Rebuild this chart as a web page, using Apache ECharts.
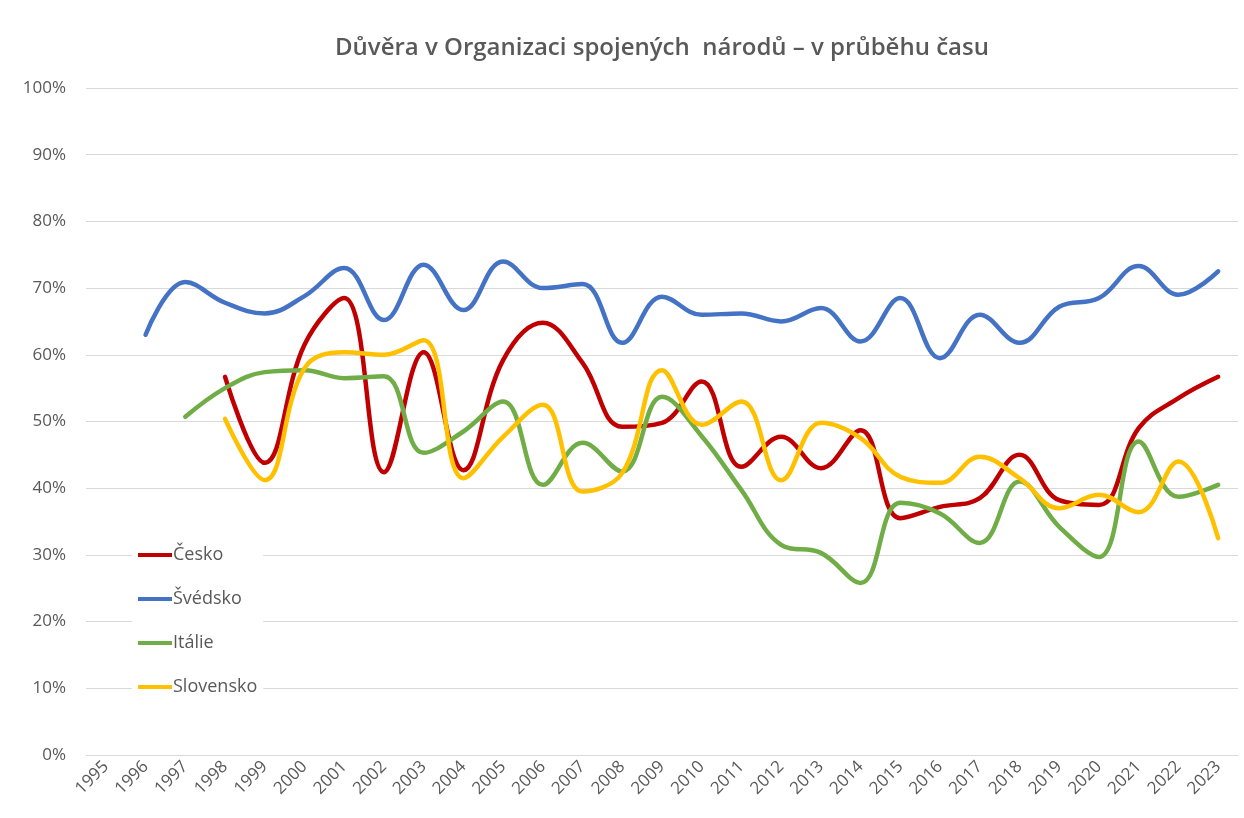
<!DOCTYPE html>
<html>
<head>
<meta charset="utf-8">
<title>Důvěra v OSN</title>
<script src="https://cdn.jsdelivr.net/npm/echarts@6/dist/echarts.min.js"></script>
<style>
html, body { margin: 0; padding: 0; background: #fff; }
#chart { width: 1244px; height: 818px; }
</style>
</head>
<body>
<div id="chart"></div>
<script>
// roky na ose x
var years = ['1995','1996','1997','1998','1999','2000','2001','2002','2003','2004',
  '2005','2006','2007','2008','2009','2010','2011','2012','2013','2014',
  '2015','2016','2017','2018','2019','2020','2021','2022','2023'];

// hodnoty v % (null = chybí)
var cesko = [null, null, null, 56.7, 43.8, 61.5, 68.5, 42.4, 60.4, 42.7,
  59.2, 64.8, 58.8, 49.2, 49.8, 56, 43.2, 47.7, 43, 48.7,
  35.5, 37.2, 38.5, 45, 38.2, 37.5, 49, 53.5, 56.7];
var svedsko = [null, 63, 70.9, 67.8, 66.2, 68.8, 73, 65.2, 73.5, 66.7,
  74, 70, 70.6, 61.8, 68.7, 66, 66.2, 65, 67, 62,
  68.5, 59.5, 66, 61.8, 67.2, 68.5, 73.3, 69, 72.5];
var italie = [null, null, 50.7, 55, 57.4, 57.7, 56.5, 56.8, 45.3, 48.5,
  53, 40.5, 46.8, 42.5, 53.7, 47.8, 39.7, 31.5, 30.3, 25.8,
  37.8, 36.2, 31.8, 41, 34.2, 29.7, 47, 38.7, 40.5];
var slovensko = [null, null, null, 50.4, 41.2, 58, 60.4, 60, 62.2, 41.5,
  47.7, 52.5, 39.5, 42.3, 57.7, 49.5, 53, 41.2, 49.8, 47.5,
  41.7, 40.8, 44.7, 41.5, 37, 39, 36.4, 44, 32.5];

var yTicks = [0, 10, 20, 30, 40, 50, 60, 70, 80, 90, 100];

var myChart = echarts.init(document.getElementById('chart'));

function line(name, data, color) {
  return {
    name: name,
    type: 'line',
    data: data,
    smooth: 0.4,
    symbol: 'none',
    connectNulls: false,
    lineStyle: { width: 4.5, color: color, cap: 'round' },
    itemStyle: { color: color }
  };
}

var option = {
  backgroundColor: '#fff',
  animation: false,
  textStyle: { fontFamily: 'Open Sans' },
  title: {
    text: 'Důvěra v Organizaci spojených  národů – v průběhu času',
    left: 330,
    top: 31,
    textStyle: { fontSize: 24, fontWeight: 600, color: '#595959', fontFamily: 'Open Sans' }
  },
  legend: {
    orient: 'vertical',
    left: 132,
    top: 542,
    icon: 'rect',
    itemWidth: 34,
    itemHeight: 4,
    itemGap: 22,
    padding: [2, 6, 2, 6],
    backgroundColor: '#fff',
    textStyle: { fontSize: 18, color: '#595959', lineHeight: 22, padding: [0, 0, 0, -4] },
    data: ['Česko', 'Švédsko', 'Itálie', 'Slovensko']
  },
  grid: { left: 86, right: 6, top: 88, bottom: 63, containLabel: false },
  xAxis: {
    type: 'category',
    data: years,
    boundaryGap: true,
    axisTick: { show: false },
    axisLine: { show: true, lineStyle: { color: '#d9d9d9', width: 1 } },
    axisLabel: { rotate: 45, color: '#595959', fontSize: 17, margin: 9, interval: 0 }
  },
  yAxis: {
    type: 'value',
    min: yTicks[0],
    max: yTicks[yTicks.length - 1],
    interval: 10,
    axisLine: { show: false },
    axisTick: { show: false },
    axisLabel: { formatter: '{value}%', color: '#595959', fontSize: 17, margin: 20 },
    splitLine: { lineStyle: { color: '#d9d9d9', width: 1 } }
  },
  series: [
    line('Česko', cesko, '#C00000'),
    line('Švédsko', svedsko, '#4472C4'),
    line('Itálie', italie, '#70AD47'),
    line('Slovensko', slovensko, '#FFC000')
  ]
};

myChart.setOption(option);
</script>
</body>
</html>
